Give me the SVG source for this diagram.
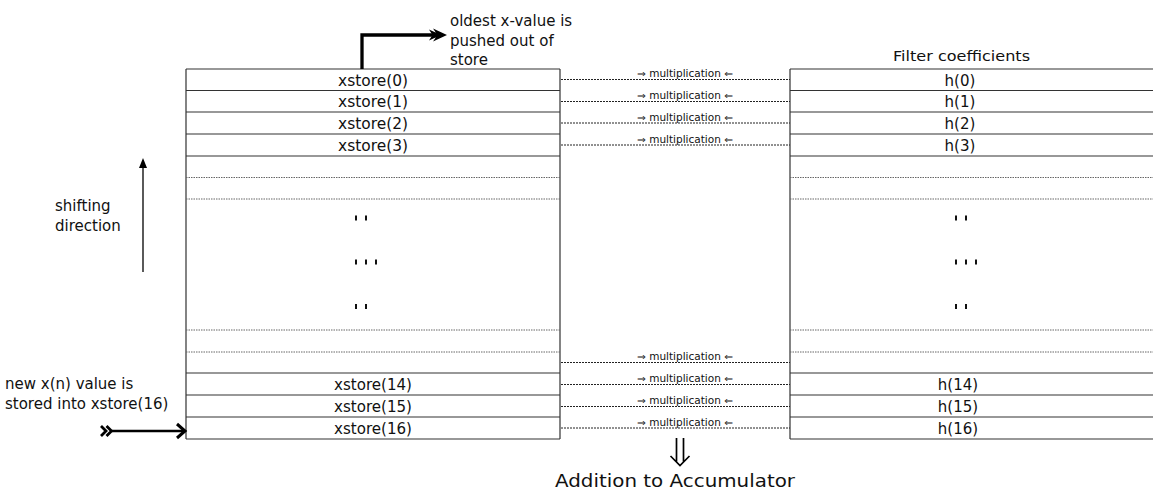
<svg xmlns="http://www.w3.org/2000/svg" width="1153" height="497" viewBox="0 0 1153 497">
<style>
text{font-family:"DejaVu Sans","Liberation Sans",sans-serif;fill:#111}
.lbl{font-size:15px}
.cell{font-size:15px;text-anchor:middle}
.mul{font-size:10px;text-anchor:middle}
.rule{stroke:#333;stroke-width:1.2;fill:none}
.dot{stroke:#666;stroke-width:1;stroke-dasharray:1.5 1;fill:none}
.con{stroke:#222;stroke-width:1;stroke-dasharray:2 1;fill:none}
.tick{fill:#111}
</style>
<rect width="1153" height="497" fill="#fff"/>
<g id="xstore">
<path class="rule" d="M186,69 V439 M560,69 V439 M186,69 H560 M186,90.5 H560 M186,112 H560 M186,134 H560 M186,156 H560 M186,373 H560 M186,395 H560 M186,417 H560 M186,439 H560"/>
<path class="dot" d="M186,177.5 H560 M186,199 H560 M186,330 H560 M186,352 H560"/>
<text class="cell" x="373" y="86" textLength="70" lengthAdjust="spacingAndGlyphs">xstore(0)</text>
<text class="cell" x="373" y="107" textLength="70" lengthAdjust="spacingAndGlyphs">xstore(1)</text>
<text class="cell" x="373" y="129" textLength="70" lengthAdjust="spacingAndGlyphs">xstore(2)</text>
<text class="cell" x="373" y="151" textLength="70" lengthAdjust="spacingAndGlyphs">xstore(3)</text>
<text class="cell" x="373" y="390" textLength="78" lengthAdjust="spacingAndGlyphs">xstore(14)</text>
<text class="cell" x="373" y="412" textLength="78" lengthAdjust="spacingAndGlyphs">xstore(15)</text>
<text class="cell" x="373" y="434" textLength="78" lengthAdjust="spacingAndGlyphs">xstore(16)</text>
<rect class="tick" x="355" y="215.5" width="2" height="5"/><rect class="tick" x="365" y="215.5" width="2" height="5"/>
<rect class="tick" x="355" y="259.5" width="2" height="5"/><rect class="tick" x="365" y="259.5" width="2" height="5"/><rect class="tick" x="375" y="259.5" width="2" height="5"/>
<rect class="tick" x="355" y="304" width="2" height="5"/><rect class="tick" x="365" y="304" width="2" height="5"/>
</g>
<g id="coeffs">
<path class="rule" d="M790,69 V439 M790,69 H1153 M790,90.5 H1153 M790,112 H1153 M790,134 H1153 M790,156 H1153 M790,373 H1153 M790,395 H1153 M790,417 H1153 M790,439 H1153"/>
<path class="dot" d="M790,177.5 H1153 M790,199 H1153 M790,330 H1153 M790,352 H1153"/>
<text x="893" y="61" font-size="14" textLength="137" lengthAdjust="spacingAndGlyphs">Filter coefficients</text>
<text class="cell" x="960" y="86">h(0)</text>
<text class="cell" x="960" y="107">h(1)</text>
<text class="cell" x="960" y="129">h(2)</text>
<text class="cell" x="960" y="151">h(3)</text>
<text class="cell" x="958" y="390">h(14)</text>
<text class="cell" x="958" y="412">h(15)</text>
<text class="cell" x="958" y="434">h(16)</text>
<rect class="tick" x="955" y="215.5" width="2" height="5"/><rect class="tick" x="965" y="215.5" width="2" height="5"/>
<rect class="tick" x="955" y="259.5" width="2" height="5"/><rect class="tick" x="965" y="259.5" width="2" height="5"/><rect class="tick" x="975" y="259.5" width="2" height="5"/>
<rect class="tick" x="955" y="304" width="2" height="5"/><rect class="tick" x="965" y="304" width="2" height="5"/>
</g>
<g id="connectors">
<path class="con" d="M561,79.5 H790 M561,101.5 H790 M561,123 H790 M561,145 H790 M561,362.5 H790 M561,384.5 H790 M561,406.5 H790 M561,428 H790"/>
<text class="mul" x="685" y="77" textLength="96" lengthAdjust="spacingAndGlyphs">⇒ multiplication ⇐</text>
<text class="mul" x="685" y="99" textLength="96" lengthAdjust="spacingAndGlyphs">⇒ multiplication ⇐</text>
<text class="mul" x="685" y="120.5" textLength="96" lengthAdjust="spacingAndGlyphs">⇒ multiplication ⇐</text>
<text class="mul" x="685" y="142.5" textLength="96" lengthAdjust="spacingAndGlyphs">⇒ multiplication ⇐</text>
<text class="mul" x="685" y="360" textLength="96" lengthAdjust="spacingAndGlyphs">⇒ multiplication ⇐</text>
<text class="mul" x="685" y="382" textLength="96" lengthAdjust="spacingAndGlyphs">⇒ multiplication ⇐</text>
<text class="mul" x="685" y="404" textLength="96" lengthAdjust="spacingAndGlyphs">⇒ multiplication ⇐</text>
<text class="mul" x="685" y="425.5" textLength="96" lengthAdjust="spacingAndGlyphs">⇒ multiplication ⇐</text>
<path d="M362,69 V35 H440" stroke="#000" stroke-width="3.3" fill="none"/>
<path d="M447,35 L433,28.5 L437.5,35 L433,41.5 Z M441,35 L429,29.5 L432.5,35 L429,40.5 Z" fill="#000"/>
<path d="M143,272 V166" stroke="#000" stroke-width="1.3" fill="none"/>
<path d="M143,158 L139,168 L147,168 Z" fill="#000"/>
<path d="M112,431 H184" stroke="#000" stroke-width="2.6" fill="none"/>
<path d="M177,424 L185,431 L177,438" stroke="#000" stroke-width="3" fill="none"/>
<path d="M101,426 L106,431 L101,436 M106.5,426 L111.5,431 L106.5,436" stroke="#000" stroke-width="2.8" fill="none"/>
<path d="M676.5,438 V462 M683.5,438 V462 M670.5,456 L680,465.5 L689.5,456" stroke="#000" stroke-width="1.7" fill="none"/>
</g>
<g id="labels">
<text class="lbl" x="450" y="26">oldest x-value is</text>
<text class="lbl" x="450" y="46">pushed out of</text>
<text class="lbl" x="450" y="65">store</text>
<text class="lbl" x="55" y="211">shifting</text>
<text class="lbl" x="55" y="231">direction</text>
<text class="lbl" x="5" y="389">new x(n) value is</text>
<text class="lbl" x="5" y="409">stored into xstore(16)</text>
<text x="675" y="487" font-size="17" text-anchor="middle" textLength="240" lengthAdjust="spacingAndGlyphs">Addition to Accumulator</text>
</g>
</svg>
